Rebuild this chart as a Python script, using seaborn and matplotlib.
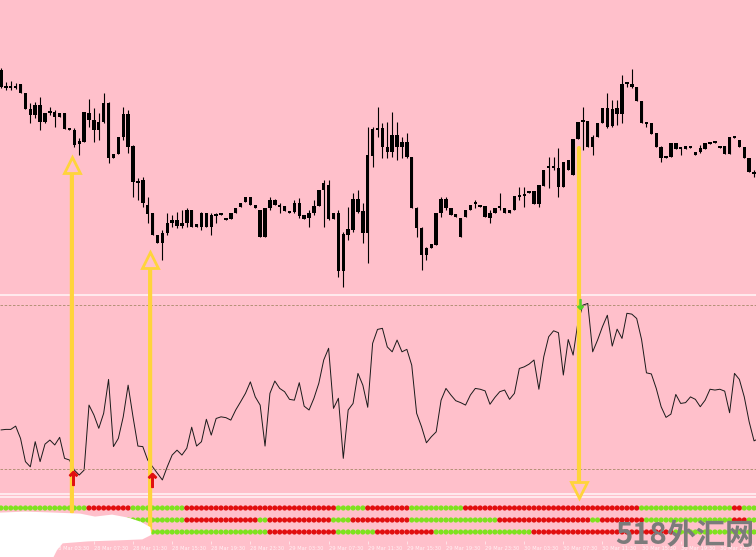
import numpy as np
import pandas as pd
import matplotlib.pyplot as plt
import seaborn as sns
from matplotlib.patches import ConnectionPatch, Polygon
from matplotlib.lines import Line2D

BG = "#FFC0CB"
GREEN = "#7FE21E"
RED = "#E10F0F"
GOLD = "#FFD43B"

sns.set_style("white", {"axes.facecolor": BG, "figure.facecolor": BG})
plt.rcParams['font.family'] = ['DejaVu Sans']

# 30 min candles, price level (no price scale visible)
opens = [230, 213, 213, 213, 216, 207, 191, 185, 195, 178,
         188, 188, 183, 187, 171, 170, 156, 158, 187, 180,
         170, 178, 197, 142, 146, 163, 186, 154, 118, 120,
         95, 87, 65, 57, 67, 77, 80, 74, 77, 90,
         73, 73, 87, 73, 85, 86, 82, 81, 87, 93,
         98, 103, 95, 90, 63, 92, 100, 94, 94, 88,
         88, 97, 85, 82, 87, 94, 110, 115, 81, 87,
         29, 65, 70, 101, 89, 67, 144, 171, 172, 153,
         148, 165, 153, 158, 143, 92, 72, 45, 52, 55,
         87, 101, 92, 86, 82, 83, 90, 97, 94, 94,
         82, 87, 93, 92, 87, 90, 104, 105, 107, 109,
         96, 114, 133, 133, 132, 113, 130, 125, 161, 179,
         179, 153, 163, 177, 192, 174, 186, 186, 217, 216,
         213, 199, 177, 177, 167, 153, 143, 143, 157, 152,
         151, 153, 148, 148, 151, 157, 158, 153, 154, 146,
         163, 160, 153, 142, 127]
closes = [213, 213, 213, 214, 207, 191, 185, 195, 178, 187,
          188, 183, 187, 171, 171, 155, 159, 188, 180, 170,
          178, 197, 142, 146, 163, 186, 153, 118, 118, 97,
          86, 65, 57, 67, 77, 80, 74, 77, 90, 73,
          76, 87, 73, 85, 85, 86, 80, 87, 92, 97,
          103, 95, 92, 63, 92, 100, 95, 94, 89, 88,
          97, 84, 81, 87, 94, 110, 117, 81, 87, 29,
          66, 71, 101, 88, 67, 145, 171, 171, 153, 148,
          165, 153, 158, 143, 92, 72, 45, 52, 56, 87,
          101, 92, 85, 83, 63, 90, 95, 97, 94, 83,
          87, 92, 93, 87, 90, 104, 104, 105, 109, 96,
          115, 130, 133, 133, 113, 138, 140, 161, 178, 179,
          153, 163, 177, 192, 173, 191, 192, 216, 217, 213,
          199, 177, 177, 166, 153, 142, 143, 157, 151, 152,
          154, 153, 145, 152, 157, 157, 158, 153, 146, 163,
          163, 153, 142, 128, 127]
highs = [232, 218, 219, 217, 216, 207, 197, 198, 203, 187,
         193, 190, 187, 187, 172, 172, 162, 188, 201, 192,
         187, 207, 198, 146, 163, 193, 190, 155, 122, 123,
         103, 87, 65, 70, 87, 85, 88, 90, 92, 90,
         76, 88, 87, 87, 87, 87, 82, 87, 92, 97,
         103, 103, 95, 90, 92, 103, 101, 97, 94, 89,
         100, 102, 85, 90, 100, 110, 120, 120, 87, 90,
         68, 93, 107, 110, 97, 173, 173, 193, 177, 178,
         188, 178, 163, 167, 143, 93, 73, 53, 56, 87,
         103, 103, 92, 86, 82, 90, 95, 100, 95, 94,
         90, 92, 107, 92, 90, 104, 113, 113, 109, 109,
         115, 130, 143, 143, 152, 138, 140, 161, 178, 193,
         179, 165, 177, 192, 207, 200, 200, 225, 218, 231,
         213, 199, 178, 177, 167, 154, 144, 157, 157, 153,
         154, 154, 148, 155, 157, 158, 159, 154, 154, 163,
         164, 160, 153, 142, 130]
lows = [212, 210, 210, 211, 207, 191, 177, 182, 170, 177,
        185, 173, 183, 171, 170, 153, 145, 158, 173, 158,
        160, 177, 137, 142, 146, 160, 147, 103, 100, 93,
        77, 65, 57, 40, 65, 73, 72, 72, 73, 73,
        73, 70, 73, 65, 77, 85, 80, 81, 87, 93,
        98, 95, 92, 63, 63, 90, 95, 87, 89, 87,
        87, 82, 81, 73, 85, 94, 73, 80, 81, 23,
        13, 60, 68, 87, 57, 37, 133, 163, 142, 142,
        143, 140, 142, 142, 92, 63, 30, 40, 52, 55,
        83, 90, 85, 83, 63, 83, 90, 92, 93, 83,
        77, 87, 90, 87, 87, 90, 100, 93, 107, 96,
        93, 114, 112, 130, 103, 113, 130, 125, 161, 150,
        153, 145, 163, 177, 172, 173, 175, 177, 213, 212,
        199, 177, 173, 166, 153, 138, 142, 143, 151, 145,
        151, 152, 145, 147, 151, 156, 157, 152, 146, 146,
        162, 153, 142, 128, 123]

# oscillator (0-100 scale, levels 20 / 80)
osc = [34.3, 34.5, 34.5, 35.7, 31.2, 22.7, 20.8, 30.0, 22.7, 29.1,
       30.6, 28.8, 31.6, 23.9, 23.3, 19.6, 17.8, 19.6, 43.4, 39.8,
       34.9, 40.4, 52.8, 28.2, 31.2, 39.1, 50.7, 39.1, 28.4, 28.2,
       23.3, 20.8, 18.4, 16.0, 20.8, 25.1, 26.9, 25.1, 27.6, 35.3,
       28.4, 30.0, 38.2, 32.4, 38.5, 39.1, 38.8, 37.9, 41.6, 44.6,
       47.7, 51.9, 46.4, 43.4, 28.4, 47.7, 52.2, 49.5, 48.3, 45.5,
       45.2, 51.6, 43.0, 41.6, 45.9, 51.4, 59.9, 64.2, 42.2, 45.9,
       23.9, 41.6, 44.0, 55.0, 50.7, 42.6, 66.0, 71.1, 71.5,
       64.7, 62.9, 67.2, 62.9, 63.8, 58.0, 40.4, 35.5, 29.6, 31.8,
       33.6, 45.2, 49.5, 47.1, 45.0, 44.3, 43.4, 47.1, 49.5, 49.2,
       48.6, 43.7, 46.2, 48.3, 48.9, 45.5, 47.7, 56.8, 57.4, 58.4,
       59.9, 49.2, 61.1, 68.4, 70.6, 69.9, 54.4, 67.4, 61.7, 73.9,
       80.0, 80.6, 62.9, 67.2, 72.1, 76.3, 65.0, 71.2, 67.8, 77.0,
       76.7, 75.1, 67.4, 55.2, 54.8, 49.5, 42.8, 38.9, 40.1, 47.3,
       44.0, 44.3, 46.4, 45.5, 42.8, 45.2, 49.2, 48.9, 49.2, 48.5,
       40.6, 55.0, 52.8, 46.4, 37.3, 30.3, 31.2]
osc_levels = [20, 80]

# signal rows: (colour, number of bars)
row1_runs = [("g", 18), ("r", 9), ("g", 11), ("r", 31), ("g", 6), ("r", 9),
             ("g", 11), ("r", 36), ("g", 19), ("r", 2), ("g", 3)]
row2_runs = [("g", 18), ("r", 5), ("g", 15), ("r", 15), ("g", 2), ("r", 13),
             ("g", 4), ("r", 12), ("g", 18), ("r", 19), ("g", 2), ("r", 9),
             ("g", 18), ("r", 3), ("g", 2)]
row3_runs = [("g", 18), ("r", 9), ("g", 28), ("r", 14), ("g", 8), ("r", 12),
             ("g", 20), ("r", 29), ("g", 17)]

tick_bars = [3, 11, 19, 27, 35, 43, 51, 59, 67, 75, 83, 91, 99, 107, 115, 123, 131, 139, 147]
tick_labels = ["27 Mar 23:30", "28 Mar 03:30", "28 Mar 07:30", "28 Mar 11:30", "28 Mar 15:30",
               "28 Mar 19:30", "28 Mar 23:30", "29 Mar 03:30", "29 Mar 07:30", "29 Mar 11:30",
               "29 Mar 15:30", "29 Mar 19:30", "29 Mar 23:30", "30 Mar 03:30", "30 Mar 07:30",
               "30 Mar 11:30", "30 Mar 15:30", "30 Mar 19:30", "30 Mar 23:30"]

# ---- layout (pixel rows of the 756x557 picture)
W, H = 756, 557
fig = plt.figure(figsize=(W / 100, H / 100), dpi=100)


def band(top, bottom):
    return [0, 1 - bottom / H, 1, (bottom - top) / H]


ax_p = fig.add_axes(band(0, 294))
ax_o = fig.add_axes(band(295, 494))
ax_d = fig.add_axes(band(497, 541))
XLIM = (-0.2, 154.4)

# ---- candles
x = np.arange(len(opens))
o = np.array(opens, float)
c = np.array(closes, float)
lo = np.minimum(o, c)
body = np.maximum(c - o, o - c)
ax_p.vlines(x, lows, highs, color="black", lw=0.8)
ax_p.bar(x, np.maximum(body, 1.2), bottom=np.where(body < 1.2, lo - 0.6, lo),
         width=0.7, color="black", linewidth=0)
ax_p.set_xlim(*XLIM)
ax_p.set_ylim(6, 300)

# ---- oscillator
sns.lineplot(x=np.arange(len(osc)), y=osc, ax=ax_o, color="#1a1a1a", lw=0.7)
for lv in osc_levels:
    ax_o.axhline(lv, color="#A88A6A", lw=0.6, dashes=(3, 2))
ax_o.set_xlim(*XLIM)
ax_o.set_ylim(10.85, 83.7)

# ---- signal dots
rows = []
for yrow, runs in [(3, row1_runs), (2, row2_runs), (1, row3_runs)]:
    sig = np.concatenate([[s] * n for s, n in runs])
    rows.append(pd.DataFrame({"bar": np.arange(len(sig)), "row": yrow, "sig": sig}))
dots = pd.concat(rows)
sns.scatterplot(data=dots, x="bar", y="row", hue="sig", palette={"g": GREEN, "r": RED},
                s=14, linewidth=0, legend=False, ax=ax_d)
ax_d.set_xlim(*XLIM)
ax_d.set_ylim(0.25, 3.917)
ax_d.set_xticks(tick_bars)
ax_d.set_xticklabels(tick_labels, fontsize=3.7, color="#FFF0F3", ha="left")
ax_d.tick_params(axis="x", bottom=True, length=2, width=0.5, color="#FFF0F3", pad=1.5)
ax_d.set_xlabel("")
ax_d.set_ylabel("")

for ax in (ax_p, ax_o, ax_d):
    if ax is not ax_d:
        ax.set_xticks([])
    ax.set_yticks([])
    ax.set_ylabel("")
    for sp in ax.spines.values():
        sp.set_visible(False)
for sp in (ax_o.spines["top"], ax_o.spines["bottom"], ax_d.spines["top"]):
    sp.set_visible(True)
    sp.set_color("#FFF2F4")
    sp.set_linewidth(1.2)

# ---- hand-drawn yellow arrows: (bar, price level of head) -> signal row
arrows = [(14.5, 135, 2.67), (30.5, 40, 1.08)]
for bar, lvl, yb in arrows:
    fig.add_artist(ConnectionPatch((bar, lvl), (bar, yb), coordsA=ax_p.transData,
                                   coordsB=ax_d.transData, color=GOLD, lw=3, zorder=2))
    fig.add_artist(Line2D([bar], [lvl], marker="^", ms=11, mfc=BG, mec=GOLD, mew=2,
                          transform=ax_p.transData, zorder=3))
fig.add_artist(ConnectionPatch((118.2, 152), (118.2, 12.3), coordsA=ax_p.transData,
                               coordsB=ax_o.transData, color=GOLD, lw=3, zorder=2))
fig.add_artist(Line2D([118.2], [12.3], marker="v", ms=11, mfc=BG, mec=GOLD, mew=2,
                      transform=ax_o.transData, zorder=3))

# indicator signal arrows
for bar, val in [(14.8, 16.7), (30.9, 16.0)]:
    fig.add_artist(Line2D([bar], [val], marker=r"$\uparrow$", ms=10, color=RED,
                          transform=ax_o.transData, zorder=4))
fig.add_artist(Line2D([118.4], [80.4], marker=r"$\downarrow$", ms=7, color="#55D02A",
                      transform=ax_o.transData, zorder=4))

# white scribble over the lower left corner
blob_px = [(0, 514), (25, 513), (55, 514), (80, 515), (95, 518), (112, 516), (128, 519),
           (140, 523), (149, 528), (150, 534), (142, 538), (118, 539), (88, 540),
           (62, 542), (56, 549), (52, 557), (0, 557)]
fig.add_artist(Polygon([(px / W, 1 - py / H) for px, py in blob_px], closed=True,
                       transform=fig.transFigure, fc="white", ec="white", lw=2, zorder=5))

fig.text(685 / W, 1 - 535 / H, "518外汇网", fontsize=21, color="#7B7B7B", fontweight="bold",
         ha="center", va="center", family=["Noto Sans CJK SC", "DejaVu Sans"], zorder=6)

plt.savefig("out.png", dpi=100, facecolor=BG)
